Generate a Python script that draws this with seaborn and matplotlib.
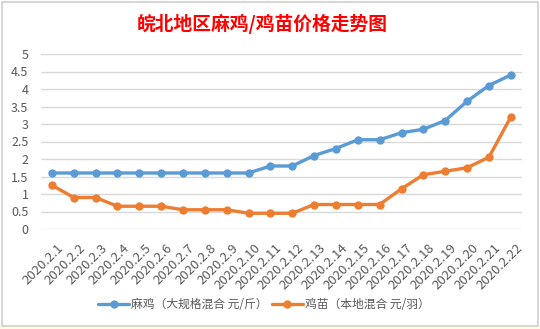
import matplotlib
matplotlib.use("Agg")
import matplotlib.pyplot as plt
import matplotlib.patches as mpatches
import matplotlib.transforms as mtransforms
import seaborn as sns
import pandas as pd

dates = ["2020.2.1", "2020.2.2", "2020.2.3", "2020.2.4", "2020.2.5", "2020.2.6",
         "2020.2.7", "2020.2.8", "2020.2.9", "2020.2.10", "2020.2.11", "2020.2.12",
         "2020.2.13", "2020.2.14", "2020.2.15", "2020.2.16", "2020.2.17", "2020.2.18",
         "2020.2.19", "2020.2.20", "2020.2.21", "2020.2.22"]
maji = [1.6, 1.6, 1.6, 1.6, 1.6, 1.6, 1.6, 1.6, 1.6, 1.6, 1.8, 1.8,
        2.1, 2.3, 2.55, 2.55, 2.75, 2.85, 3.1, 3.65, 4.1, 4.4]
jimiao = [1.25, 0.9, 0.9, 0.65, 0.65, 0.65, 0.55, 0.55, 0.55, 0.45, 0.45, 0.45,
          0.7, 0.7, 0.7, 0.7, 1.15, 1.55, 1.65, 1.75, 2.05, 3.2]
series_names = ["麻鸡（大规格混合 元/斤）", "鸡苗（本地混合 元/羽）"]
title = "皖北地区麻鸡/鸡苗价格走势图"
yticks = [0, 0.5, 1, 1.5, 2, 2.5, 3, 3.5, 4, 4.5, 5]

sns.set_theme(style="white")
plt.rcParams['font.family'] = ['Noto Sans CJK SC', 'DejaVu Sans']

df = pd.DataFrame({
    "idx": list(range(len(dates))) * 2,
    "value": maji + jimiao,
    "series": [series_names[0]] * len(dates) + [series_names[1]] * len(dates),
})

W, H = 540, 329
fig = plt.figure(figsize=(W / 100, H / 100), dpi=100)
fig.patch.set_facecolor("white")

# Excel-like surroundings
fig.add_artist(mpatches.Rectangle((0, 0), 1, 3 / H, transform=fig.transFigure,
                                  facecolor="#FFFDE0", edgecolor="none", zorder=0))
fig.add_artist(mpatches.Rectangle((1.5 / W, 1 - 326 / H), 536 / W, 324 / H,
                                  transform=fig.transFigure, facecolor="white",
                                  edgecolor="#D0D0D0", linewidth=1.2, zorder=1))

left, right = 41 / W, 521.7 / W
bottom, top = 1 - 229 / H, 1 - 54 / H
ax = fig.add_axes([left, bottom, right - left, top - bottom])
ax.set_zorder(2)
ax.patch.set_alpha(0)

palette = {series_names[0]: "#5B9BD5", series_names[1]: "#ED7D31"}
sns.lineplot(data=df, x="idx", y="value", hue="series", palette=palette,
             marker="o", markersize=6, markeredgewidth=0, linewidth=2.4,
             ax=ax, legend=True)

ax.set_xlim(-0.5, len(dates) - 0.5)
ax.set_ylim(0, 5)
ax.set_yticks(yticks)
ax.set_yticklabels([f"{v:g}" for v in yticks])
ax.set_xticks(range(len(dates)))
ax.set_xticklabels(dates, rotation=45, ha="right", va="top", rotation_mode="anchor")
ax.tick_params(axis="x", length=0, pad=9, labelsize=9.5, labelcolor="#595959")
ax.tick_params(axis="y", length=0, pad=9, labelsize=9, labelcolor="#595959")
shift = mtransforms.ScaledTranslation(5 / 100, 0, fig.dpi_scale_trans)
for lab in ax.get_xticklabels():
    lab.set_transform(lab.get_transform() + shift)
ax.set_xlabel("")
ax.set_ylabel("")
ax.grid(axis="y", color="#D9D9D9", linewidth=1)
ax.grid(axis="x", visible=False)
for s in ax.spines.values():
    s.set_visible(False)

handles, labels = ax.get_legend_handles_labels()
lx = (264 / W - left) / (right - left)
ly = (1 - 305 / H - bottom) / (top - bottom)
ax.legend(handles, labels, loc="center", bbox_to_anchor=(lx, ly),
          ncol=2, frameon=False, fontsize=8.5, labelcolor="#595959",
          handlelength=2.6, columnspacing=0.35, handletextpad=0.2)

fig.text(262 / W, 1 - 24 / H, title, ha="center", va="center", color="#FF0000",
         fontsize=13.5, fontweight="bold", zorder=3)

fig.savefig("out.png", dpi=100)
